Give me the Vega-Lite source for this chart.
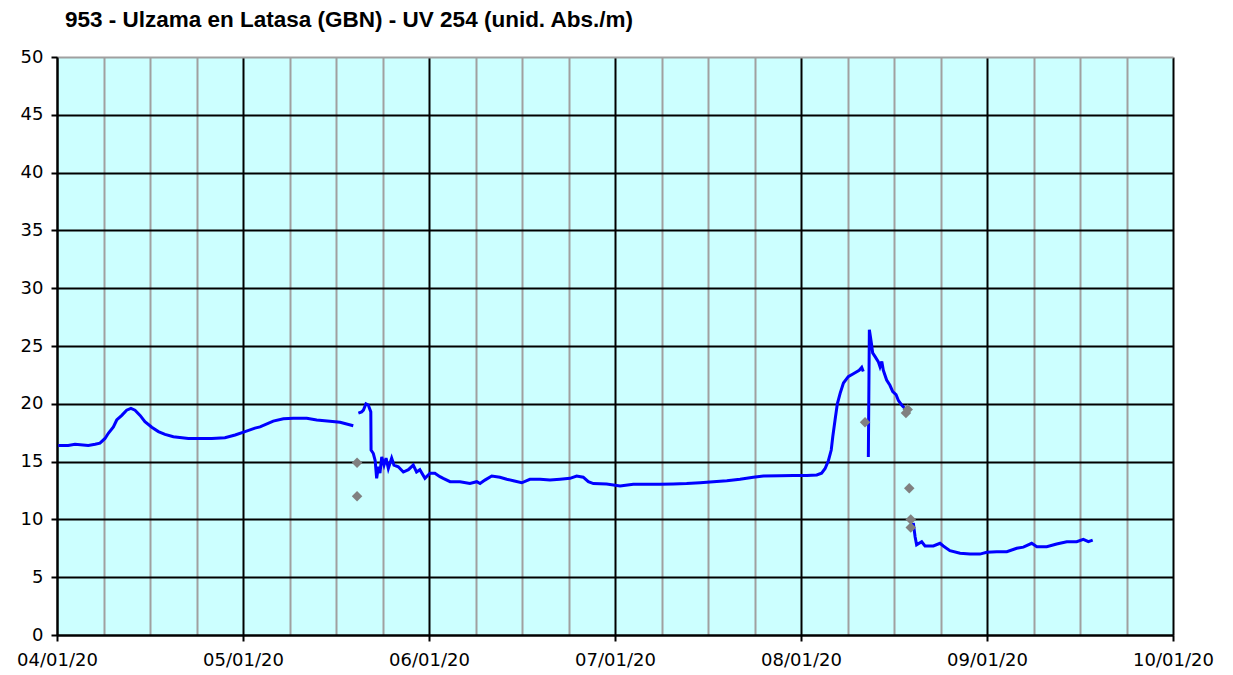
{
  "$schema": "https://vega.github.io/schema/vega-lite/v6.json",
  "autosize": "none",
  "width": 1116,
  "height": 578,
  "padding": {"left": 57, "top": 57, "right": 60, "bottom": 40},
  "background": "#FFFFFF",
  "title": {
    "text": "953 - Ulzama en Latasa (GBN) - UV 254 (unid. Abs./m)",
    "anchor": "start",
    "frame": "group",
    "font": "Liberation Sans",
    "fontWeight": "bold",
    "fontSize": 22.5,
    "color": "#000000",
    "baseline": "alphabetic",
    "offset": -1,
    "dx": 8
  },
  "config": {
    "view": {"fill": "#CCFFFF", "stroke": null},
    "axis": {
      "labelFont": "DejaVu Sans",
      "labelFontSize": 18,
      "labelColor": "#000000",
      "domainColor": "#000000",
      "domainWidth": 2,
      "tickColor": "#000000",
      "tickWidth": 2,
      "gridWidth": 2,
      "title": null
    }
  },
  "datasets": {
    "uv": [
      {"t": "2020-04-01T05:00Z", "v": 16.4, "seg": "A"},
      {"t": "2020-04-02T20:00Z", "v": 16.4, "seg": "A"},
      {"t": "2020-04-03T23:00Z", "v": 16.5, "seg": "A"},
      {"t": "2020-04-06T03:00Z", "v": 16.4, "seg": "A"},
      {"t": "2020-04-07T06:00Z", "v": 16.5, "seg": "A"},
      {"t": "2020-04-08T01:00Z", "v": 16.6, "seg": "A"},
      {"t": "2020-04-08T21:00Z", "v": 17.0, "seg": "A"},
      {"t": "2020-04-09T10:00Z", "v": 17.45, "seg": "A"},
      {"t": "2020-04-10T06:00Z", "v": 18.0, "seg": "A"},
      {"t": "2020-04-10T19:00Z", "v": 18.6, "seg": "A"},
      {"t": "2020-04-11T15:00Z", "v": 19.0, "seg": "A"},
      {"t": "2020-04-12T10:00Z", "v": 19.45, "seg": "A"},
      {"t": "2020-04-13T03:00Z", "v": 19.6, "seg": "A"},
      {"t": "2020-04-13T19:00Z", "v": 19.45, "seg": "A"},
      {"t": "2020-04-14T15:00Z", "v": 19.0, "seg": "A"},
      {"t": "2020-04-15T10:00Z", "v": 18.45, "seg": "A"},
      {"t": "2020-04-16T13:00Z", "v": 17.97, "seg": "A"},
      {"t": "2020-04-17T15:00Z", "v": 17.6, "seg": "A"},
      {"t": "2020-04-18T17:00Z", "v": 17.36, "seg": "A"},
      {"t": "2020-04-20T02:00Z", "v": 17.15, "seg": "A"},
      {"t": "2020-04-22T13:00Z", "v": 17.0, "seg": "A"},
      {"t": "2020-04-24T04:00Z", "v": 17.0, "seg": "A"},
      {"t": "2020-04-26T09:00Z", "v": 17.0, "seg": "A"},
      {"t": "2020-04-28T13:00Z", "v": 17.07, "seg": "A"},
      {"t": "2020-04-30T05:00Z", "v": 17.3, "seg": "A"},
      {"t": "2020-05-01T20:00Z", "v": 17.6, "seg": "A"},
      {"t": "2020-05-03T11:00Z", "v": 17.9, "seg": "A"},
      {"t": "2020-05-04T07:00Z", "v": 18.0, "seg": "A"},
      {"t": "2020-05-06T11:00Z", "v": 18.5, "seg": "A"},
      {"t": "2020-05-08T03:00Z", "v": 18.7, "seg": "A"},
      {"t": "2020-05-09T18:00Z", "v": 18.75, "seg": "A"},
      {"t": "2020-05-11T23:00Z", "v": 18.75, "seg": "A"},
      {"t": "2020-05-13T14:00Z", "v": 18.6, "seg": "A"},
      {"t": "2020-05-15T18:00Z", "v": 18.5, "seg": "A"},
      {"t": "2020-05-17T10:00Z", "v": 18.4, "seg": "A"},
      {"t": "2020-05-19T14:00Z", "v": 18.1, "seg": "A"},

      {"t": "2020-05-20T10:00Z", "v": 19.2, "seg": "B"},
      {"t": "2020-05-20T23:00Z", "v": 19.3, "seg": "B"},
      {"t": "2020-05-21T06:00Z", "v": 19.45, "seg": "B"},
      {"t": "2020-05-21T16:00Z", "v": 20.0, "seg": "B"},
      {"t": "2020-05-22T01:00Z", "v": 19.9, "seg": "B"},
      {"t": "2020-05-22T11:00Z", "v": 19.3, "seg": "B"},
      {"t": "2020-05-22T12:00Z", "v": 16.0, "seg": "B"},
      {"t": "2020-05-22T21:00Z", "v": 15.7, "seg": "B"},
      {"t": "2020-05-23T04:00Z", "v": 15.1, "seg": "B"},
      {"t": "2020-05-23T10:00Z", "v": 13.55, "seg": "B"},
      {"t": "2020-05-23T17:00Z", "v": 14.55, "seg": "B"},
      {"t": "2020-05-23T23:00Z", "v": 14.0, "seg": "B"},
      {"t": "2020-05-24T06:00Z", "v": 15.4, "seg": "B"},
      {"t": "2020-05-24T15:00Z", "v": 14.7, "seg": "B"},
      {"t": "2020-05-24T23:00Z", "v": 15.3, "seg": "B"},
      {"t": "2020-05-25T08:00Z", "v": 14.4, "seg": "B"},
      {"t": "2020-05-25T21:00Z", "v": 15.3, "seg": "B"},
      {"t": "2020-05-26T06:00Z", "v": 14.7, "seg": "B"},
      {"t": "2020-05-26T23:00Z", "v": 14.55, "seg": "B"},
      {"t": "2020-05-27T19:00Z", "v": 14.1, "seg": "B"},
      {"t": "2020-05-28T15:00Z", "v": 14.3, "seg": "B"},
      {"t": "2020-05-29T10:00Z", "v": 14.7, "seg": "B"},
      {"t": "2020-05-29T23:00Z", "v": 14.1, "seg": "B"},
      {"t": "2020-05-30T12:00Z", "v": 14.3, "seg": "B"},
      {"t": "2020-05-31T08:00Z", "v": 13.55, "seg": "B"},
      {"t": "2020-06-01T04:00Z", "v": 14.0, "seg": "B"},
      {"t": "2020-06-01T23:00Z", "v": 14.0, "seg": "B"},
      {"t": "2020-06-02T19:00Z", "v": 13.7, "seg": "B"},
      {"t": "2020-06-03T08:00Z", "v": 13.55, "seg": "B"},
      {"t": "2020-06-04T11:00Z", "v": 13.26, "seg": "B"},
      {"t": "2020-06-06T02:00Z", "v": 13.26, "seg": "B"},
      {"t": "2020-06-07T17:00Z", "v": 13.1, "seg": "B"},
      {"t": "2020-06-08T20:00Z", "v": 13.26, "seg": "B"},
      {"t": "2020-06-09T09:00Z", "v": 13.1, "seg": "B"},
      {"t": "2020-06-10T04:00Z", "v": 13.4, "seg": "B"},
      {"t": "2020-06-11T07:00Z", "v": 13.75, "seg": "B"},
      {"t": "2020-06-12T15:00Z", "v": 13.65, "seg": "B"},
      {"t": "2020-06-13T18:00Z", "v": 13.47, "seg": "B"},
      {"t": "2020-06-14T20:00Z", "v": 13.35, "seg": "B"},
      {"t": "2020-06-16T05:00Z", "v": 13.17, "seg": "B"},
      {"t": "2020-06-17T13:00Z", "v": 13.47, "seg": "B"},
      {"t": "2020-06-19T05:00Z", "v": 13.47, "seg": "B"},
      {"t": "2020-06-20T20:00Z", "v": 13.4, "seg": "B"},
      {"t": "2020-06-22T12:00Z", "v": 13.47, "seg": "B"},
      {"t": "2020-06-24T03:00Z", "v": 13.55, "seg": "B"},
      {"t": "2020-06-25T05:00Z", "v": 13.75, "seg": "B"},
      {"t": "2020-06-26T07:00Z", "v": 13.65, "seg": "B"},
      {"t": "2020-06-27T03:00Z", "v": 13.26, "seg": "B"},
      {"t": "2020-06-27T23:00Z", "v": 13.1, "seg": "B"},
      {"t": "2020-06-30T03:00Z", "v": 13.06, "seg": "B"},
      {"t": "2020-07-02T08:00Z", "v": 12.9, "seg": "B"},
      {"t": "2020-07-04T12:00Z", "v": 13.04, "seg": "B"},
      {"t": "2020-07-06T17:00Z", "v": 13.04, "seg": "B"},
      {"t": "2020-07-08T21:00Z", "v": 13.04, "seg": "B"},
      {"t": "2020-07-11T01:00Z", "v": 13.06, "seg": "B"},
      {"t": "2020-07-13T06:00Z", "v": 13.1, "seg": "B"},
      {"t": "2020-07-15T11:00Z", "v": 13.17, "seg": "B"},
      {"t": "2020-07-17T15:00Z", "v": 13.26, "seg": "B"},
      {"t": "2020-07-19T20:00Z", "v": 13.35, "seg": "B"},
      {"t": "2020-07-22T00:00Z", "v": 13.47, "seg": "B"},
      {"t": "2020-07-24T04:00Z", "v": 13.65, "seg": "B"},
      {"t": "2020-07-25T20:00Z", "v": 13.75, "seg": "B"},
      {"t": "2020-07-28T13:00Z", "v": 13.78, "seg": "B"},
      {"t": "2020-07-30T18:00Z", "v": 13.8, "seg": "B"},
      {"t": "2020-08-01T23:00Z", "v": 13.8, "seg": "B"},
      {"t": "2020-08-03T14:00Z", "v": 13.84, "seg": "B"},
      {"t": "2020-08-04T09:00Z", "v": 14.0, "seg": "B"},
      {"t": "2020-08-04T23:00Z", "v": 14.4, "seg": "B"},
      {"t": "2020-08-05T12:00Z", "v": 15.1, "seg": "B"},
      {"t": "2020-08-05T23:00Z", "v": 16.0, "seg": "B"},
      {"t": "2020-08-06T05:00Z", "v": 17.15, "seg": "B"},
      {"t": "2020-08-06T14:00Z", "v": 18.6, "seg": "B"},
      {"t": "2020-08-06T23:00Z", "v": 20.0, "seg": "B"},
      {"t": "2020-08-07T10:00Z", "v": 20.9, "seg": "B"},
      {"t": "2020-08-07T23:00Z", "v": 21.8, "seg": "B"},
      {"t": "2020-08-08T18:00Z", "v": 22.35, "seg": "B"},
      {"t": "2020-08-09T14:00Z", "v": 22.6, "seg": "B"},
      {"t": "2020-08-10T13:00Z", "v": 22.9, "seg": "B"},
      {"t": "2020-08-10T23:00Z", "v": 23.15, "seg": "B"},
      {"t": "2020-08-11T05:00Z", "v": 22.8, "seg": "B"},

      {"t": "2020-08-12T01:00Z", "v": 15.4, "seg": "C"},
      {"t": "2020-08-12T05:00Z", "v": 26.4, "seg": "C"},
      {"t": "2020-08-12T10:00Z", "v": 25.7, "seg": "C"},
      {"t": "2020-08-12T14:00Z", "v": 25.1, "seg": "C"},
      {"t": "2020-08-12T18:00Z", "v": 24.4, "seg": "C"},
      {"t": "2020-08-13T03:00Z", "v": 24.1, "seg": "C"},
      {"t": "2020-08-13T16:00Z", "v": 23.65, "seg": "C"},
      {"t": "2020-08-13T23:00Z", "v": 23.2, "seg": "C"},
      {"t": "2020-08-14T06:00Z", "v": 23.65, "seg": "C"},
      {"t": "2020-08-14T12:00Z", "v": 22.9, "seg": "C"},
      {"t": "2020-08-15T01:00Z", "v": 22.05, "seg": "C"},
      {"t": "2020-08-15T14:00Z", "v": 21.6, "seg": "C"},
      {"t": "2020-08-16T01:00Z", "v": 21.05, "seg": "C"},
      {"t": "2020-08-16T14:00Z", "v": 20.8, "seg": "C"},
      {"t": "2020-08-16T23:00Z", "v": 20.3, "seg": "C"},
      {"t": "2020-08-17T12:00Z", "v": 19.9, "seg": "C"},
      {"t": "2020-08-18T01:00Z", "v": 19.6, "seg": "C"},

      {"t": "2020-08-19T10:00Z", "v": 9.7, "seg": "D"},
      {"t": "2020-08-19T17:00Z", "v": 8.5, "seg": "D"},
      {"t": "2020-08-19T23:00Z", "v": 7.8, "seg": "D"},
      {"t": "2020-08-20T19:00Z", "v": 8.07, "seg": "D"},
      {"t": "2020-08-21T08:00Z", "v": 7.7, "seg": "D"},
      {"t": "2020-08-22T17:00Z", "v": 7.7, "seg": "D"},
      {"t": "2020-08-23T19:00Z", "v": 7.93, "seg": "D"},
      {"t": "2020-08-24T08:00Z", "v": 7.7, "seg": "D"},
      {"t": "2020-08-25T10:00Z", "v": 7.3, "seg": "D"},
      {"t": "2020-08-27T02:00Z", "v": 7.07, "seg": "D"},
      {"t": "2020-08-28T17:00Z", "v": 7.0, "seg": "D"},
      {"t": "2020-08-30T08:00Z", "v": 7.0, "seg": "D"},
      {"t": "2020-08-31T11:00Z", "v": 7.15, "seg": "D"},
      {"t": "2020-09-02T02:00Z", "v": 7.2, "seg": "D"},
      {"t": "2020-09-03T18:00Z", "v": 7.2, "seg": "D"},
      {"t": "2020-09-05T09:00Z", "v": 7.5, "seg": "D"},
      {"t": "2020-09-06T11:00Z", "v": 7.6, "seg": "D"},
      {"t": "2020-09-07T20:00Z", "v": 7.93, "seg": "D"},
      {"t": "2020-09-08T16:00Z", "v": 7.64, "seg": "D"},
      {"t": "2020-09-10T07:00Z", "v": 7.64, "seg": "D"},
      {"t": "2020-09-11T22:00Z", "v": 7.87, "seg": "D"},
      {"t": "2020-09-13T14:00Z", "v": 8.07, "seg": "D"},
      {"t": "2020-09-15T05:00Z", "v": 8.07, "seg": "D"},
      {"t": "2020-09-16T07:00Z", "v": 8.28, "seg": "D"},
      {"t": "2020-09-17T03:00Z", "v": 8.07, "seg": "D"},
      {"t": "2020-09-17T20:00Z", "v": 8.2, "seg": "D"}
    ],
    "lab": [
      {"t": "2020-05-20T05:00Z", "v": 14.9},
      {"t": "2020-05-20T05:00Z", "v": 12.0},
      {"t": "2020-08-11T12:00Z", "v": 18.4},
      {"t": "2020-08-18T05:00Z", "v": 19.2},
      {"t": "2020-08-18T12:00Z", "v": 19.5},
      {"t": "2020-08-18T18:00Z", "v": 12.7},
      {"t": "2020-08-19T00:00Z", "v": 10.0},
      {"t": "2020-08-19T00:00Z", "v": 9.3}
    ]
  },
  "encoding": {
    "x": {
      "field": "t",
      "type": "temporal",
      "scale": {"type": "utc", "domain": [1585699200000, 1601510400000], "nice": false},
      "axis": {
        "values": [1585699200000, 1586358000000, 1587016800000, 1587675600000, 1588334400000, 1588993200000, 1589652000000, 1590310800000, 1590969600000, 1591628400000, 1592287200000, 1592946000000, 1593604800000, 1594263600000, 1594922400000, 1595581200000, 1596240000000, 1596898800000, 1597557600000, 1598216400000, 1598875200000, 1599534000000, 1600192800000, 1600851600000, 1601510400000],
        "grid": true,
        "gridColor": {"condition": {"test": "abs((toNumber(datum.value) - 1585699200000) % 2635200000) < 1000", "value": "#000000"}, "value": "#A0A0A0"},
        "tickColor": {"condition": {"test": "abs((toNumber(datum.value) - 1585699200000) % 2635200000) < 1000", "value": "#000000"}, "value": "transparent"},
        "labelExpr": "abs((toNumber(datum.value) - 1585699200000) % 2635200000) < 1000 ? utcFormat(utc(utcyear(toNumber(datum.value) + 1296000000), utcmonth(toNumber(datum.value) + 1296000000), 1), '%m/%d/%y') : ''",
        "labelOverlap": false,
        "labelFlush": false,
        "tickSize": 6,
        "labelPadding": 10
      }
    },
    "y": {
      "field": "v",
      "type": "quantitative",
      "scale": {"domain": [0, 50], "nice": false, "zero": true},
      "axis": {
        "values": [0, 5, 10, 15, 20, 25, 30, 35, 40, 45, 50],
        "grid": true,
        "gridColor": {"condition": {"test": "datum.value >= 50", "value": "#A0A0A0"}, "value": "#000000"},
        "tickSize": 6,
        "labelPadding": 8
      }
    }
  },
  "layer": [
    {
      "data": {"name": "uv"},
      "mark": {"type": "line", "color": "#0000FF", "strokeWidth": 3, "interpolate": "linear"},
      "encoding": {"detail": {"field": "seg", "type": "nominal"}}
    },
    {
      "data": {"name": "lab"},
      "mark": {"type": "point", "shape": "diamond", "filled": true, "color": "#808080", "size": 110, "opacity": 1}
    }
  ]
}
